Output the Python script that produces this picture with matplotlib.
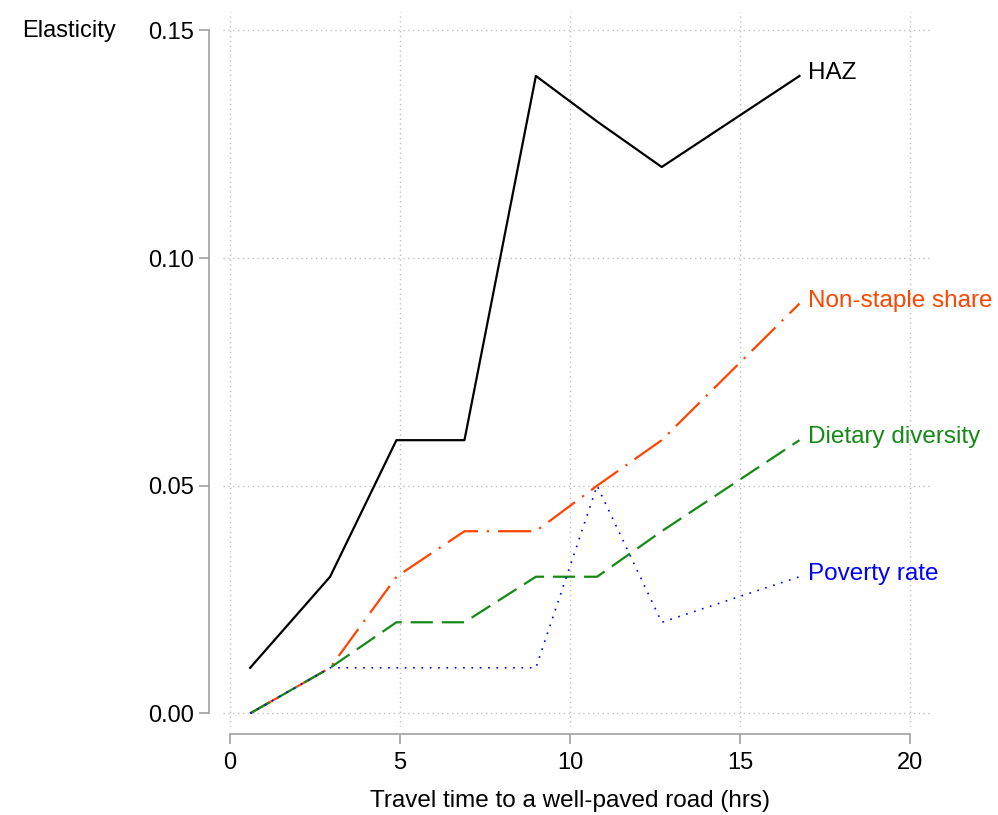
import matplotlib
matplotlib.use('Agg')
from matplotlib import pyplot

# travel time groups (hrs) and elasticities per outcome
travel_time = [0.6, 2.95, 4.9, 6.9, 9.0, 10.8, 12.7, 16.75]
haz = [0.01, 0.03, 0.06, 0.06, 0.14, 0.13, 0.12, 0.14]
non_staple = [0.0, 0.01, 0.03, 0.04, 0.04, 0.05, 0.06, 0.09]
dietary = [0.0, 0.01, 0.02, 0.02, 0.03, 0.03, 0.04, 0.06]
poverty = [0.0, 0.01, 0.01, 0.01, 0.01, 0.05, 0.02, 0.03]

x_ticks = [0, 5, 10, 15, 20]
y_ticks = [0.0, 0.05, 0.10, 0.15]

pyplot.rcParams['font.family'] = ['Liberation Sans', 'DejaVu Sans']

fig = pyplot.figure(figsize=(9.98, 8.15), dpi=100)
ax = fig.add_axes([0.2234, 0.108, 0.7106, 0.877])

series = [
    (haz, 'HAZ', 'black', '-', 1.6),
    (non_staple, 'Non-staple share', '#FF4500', (0, (15, 4, 1, 4)), 1.6),
    (dietary, 'Dietary diversity', '#148A14', (0, (10, 4)), 1.6),
    (poverty, 'Poverty rate', '#0000FF', (0, (1, 4)), 1.2),
]

for values, name, colour, style, lw in series:
    ax.plot(travel_time, values, color=colour, linestyle=style, linewidth=lw, zorder=3)
    # series label just right of the last point
    ax.annotate(name, (travel_time[-1], values[-1]), xytext=(6, 2), textcoords='offset points',
                color=colour, fontsize=17.5, va='center', ha='left')

ax.set_xlim(-0.2, 20.65)
ax.set_ylim(-0.003, 0.154)
ax.set_xticks(x_ticks)
ax.set_yticks(y_ticks)
ax.set_yticklabels(['%.2f' % v for v in y_ticks])

ax.grid(True, color='#c0c0c0', linestyle=(0, (1, 2.5)), linewidth=1.0, zorder=0)

for side in ['top', 'right']:
    ax.spines[side].set_visible(False)
ax.spines['left'].set_position(('outward', 10))
ax.spines['bottom'].set_position(('outward', 5))
ax.spines['left'].set_bounds(0, 0.15)
ax.spines['bottom'].set_bounds(0, 20)
for side in ['left', 'bottom']:
    ax.spines[side].set_color('#a0a0a0')
    ax.spines[side].set_linewidth(1.2)

ax.tick_params(axis='both', colors='#a0a0a0', labelcolor='black', labelsize=17, length=7, width=1.2)
ax.tick_params(axis='x', pad=6)
ax.tick_params(axis='y', pad=4)

ax.set_xlabel('Travel time to a well-paved road (hrs)', fontsize=17.5)
# centre the axis title under the drawn spine (0..20) rather than the full axes
ax.xaxis.set_label_coords(0.489, -0.088)
fig.text(22 / 998, 1 - 31 / 815, 'Elasticity', fontsize=17, va='center', ha='left')

pyplot.savefig('out.png', dpi=100)
